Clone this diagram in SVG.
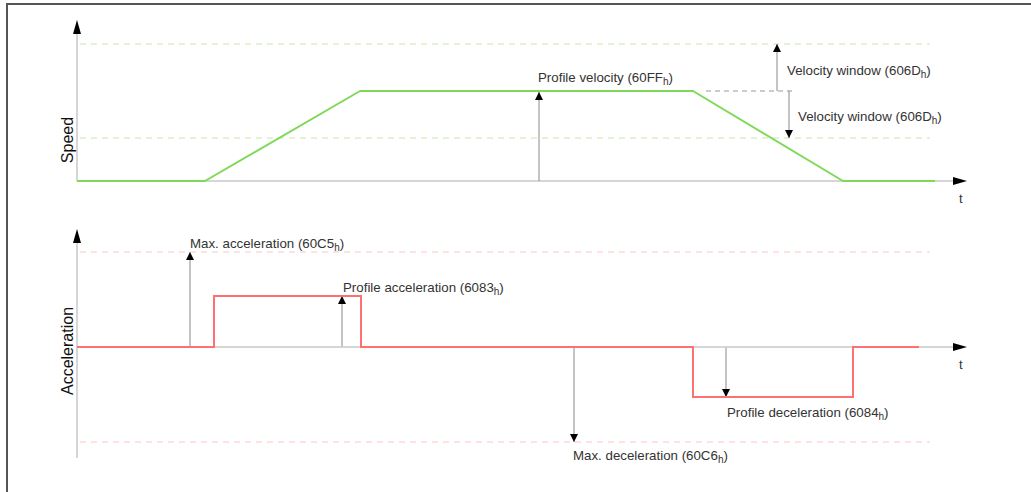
<svg xmlns="http://www.w3.org/2000/svg" width="1031" height="492" viewBox="0 0 1031 492">
  <style>
    .frame { fill: none; stroke: #555; stroke-width: 2; }
    .axis { fill: none; stroke: #c8c8c8; stroke-width: 1.5; }
    .lim-g { fill: none; stroke: #c6e6a8; stroke-width: 1; stroke-dasharray: 6 5; }
    .lim-r { fill: none; stroke: #ffc4c4; stroke-width: 1; stroke-dasharray: 6 5; }
    .win { fill: none; stroke: #999; stroke-width: 1; stroke-dasharray: 5 4; }
    .speed { fill: none; stroke: #7ed957; stroke-width: 2; stroke-linejoin: round; }
    .accel { fill: none; stroke: #ff7070; stroke-width: 2; }
    .dim { fill: none; stroke: #8a8a8a; stroke-width: 1; }
    .lbl { font-family: "Liberation Sans", Arial, sans-serif; font-size: 13.3px; fill: #333; }
    .sub { font-size: 10px; }
    .ylab { font-family: "Liberation Sans", Arial, sans-serif; font-size: 16px; fill: #111; }
    .tlab { font-family: "Liberation Sans", Arial, sans-serif; font-size: 13px; fill: #333; }
  </style>
  <defs>
    <marker id="small" viewBox="0 0 10 10" refX="10" refY="5" markerWidth="11" markerHeight="8" markerUnits="userSpaceOnUse" orient="auto">
      <path d="M0,0 L10,5 L0,10 Z" fill="#000"/>
    </marker>
  </defs>

  <rect id="white" width="1031" height="492" fill="#fff"/>
  <path class="frame" d="M7,492 V4 H1031"/>

  <!-- speed chart -->
  <g id="speed-chart">
    <line class="lim-g" x1="80" y1="44" x2="930" y2="44"/>
    <line class="lim-g" x1="80" y1="138" x2="930" y2="138"/>
    <line class="axis" x1="77" y1="181" x2="77" y2="34"/>
    <line class="axis" x1="77" y1="181" x2="955" y2="181"/>
    <path d="M77,20 L73,34 L81,34 Z" fill="#000"/>
    <path d="M967,181 L953,177 L953,185 Z" fill="#000"/>
    <text class="ylab" transform="translate(73,140) rotate(-90)" text-anchor="middle">Speed</text>
    <text class="tlab" x="959" y="203">t</text>
  </g>

  <g id="speed-profile">
    <polyline class="speed" points="77,181 205,181 360,91 693,91 843,181 935,181"/>
  </g>

  <g id="connectors">
    <line class="win" x1="706" y1="91" x2="792" y2="91"/>
    <line class="dim" x1="539" y1="181" x2="539" y2="92" marker-end="url(#small)"/>
    <line class="dim" x1="777" y1="91" x2="777" y2="44" marker-end="url(#small)"/>
    <line class="dim" x1="789" y1="91" x2="789" y2="138" marker-end="url(#small)"/>
    <line class="dim" x1="190" y1="347" x2="190" y2="252" marker-end="url(#small)"/>
    <line class="dim" x1="342" y1="347" x2="342" y2="296" marker-end="url(#small)"/>
    <line class="dim" x1="574" y1="347" x2="574" y2="442" marker-end="url(#small)"/>
    <line class="dim" x1="726" y1="347" x2="726" y2="397" marker-end="url(#small)"/>
  </g>

  <g id="speed-labels">
    <text class="lbl" x="538" y="82">Profile velocity (60FF<tspan class="sub" dy="3">h</tspan><tspan dy="-3">)</tspan></text>
    <text class="lbl" x="787" y="75">Velocity window (606D<tspan class="sub" dy="3">h</tspan><tspan dy="-3">)</tspan></text>
    <text class="lbl" x="798" y="121">Velocity window (606D<tspan class="sub" dy="3">h</tspan><tspan dy="-3">)</tspan></text>
  </g>

  <!-- acceleration chart -->
  <g id="accel-chart">
    <line class="lim-r" x1="80" y1="252" x2="930" y2="252"/>
    <line class="lim-r" x1="80" y1="442" x2="930" y2="442"/>
    <line class="axis" x1="77" y1="458" x2="77" y2="242"/>
    <line class="axis" x1="77" y1="347" x2="955" y2="347"/>
    <path d="M77,229 L73,243 L81,243 Z" fill="#000"/>
    <path d="M967,347 L953,343 L953,351 Z" fill="#000"/>
    <text class="ylab" transform="translate(73,351) rotate(-90)" text-anchor="middle">Acceleration</text>
    <text class="tlab" x="959" y="369">t</text>
  </g>

  <g id="accel-profile">
    <polyline class="accel" points="77,347 214,347 214,296 361,296 361,347 693,347 693,397 853,397 853,347 919,347"/>
  </g>

  <g id="accel-labels">
    <text class="lbl" x="190" y="248">Max. acceleration (60C5<tspan class="sub" dy="3">h</tspan><tspan dy="-3">)</tspan></text>
    <text class="lbl" x="343" y="292">Profile acceleration (6083<tspan class="sub" dy="3">h</tspan><tspan dy="-3">)</tspan></text>
    <text class="lbl" x="727" y="417">Profile deceleration (6084<tspan class="sub" dy="3">h</tspan><tspan dy="-3">)</tspan></text>
    <text class="lbl" x="573" y="460">Max. deceleration (60C6<tspan class="sub" dy="3">h</tspan><tspan dy="-3">)</tspan></text>
  </g>
</svg>
